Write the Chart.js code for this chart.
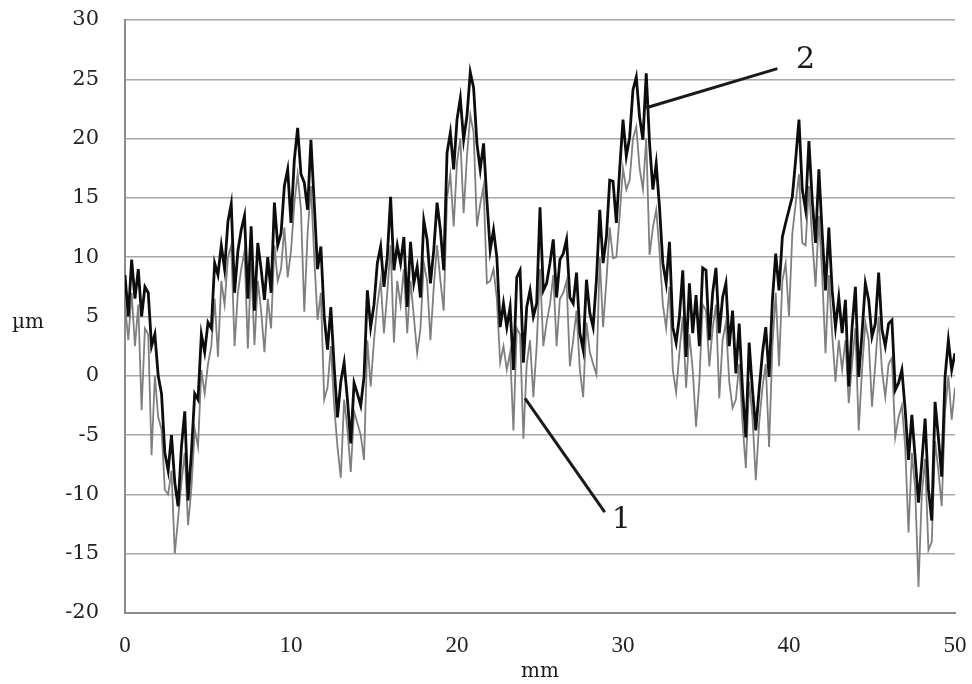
<!DOCTYPE html>
<html>
<head>
<meta charset="utf-8">
<script src="https://cdn.jsdelivr.net/npm/chart.js@4/dist/chart.umd.min.js"></script>
<style>
  html, body { margin: 0; padding: 0; background: #fff; }
  #wrap { width: 972px; height: 684px; }
</style>
</head>
<body>
<div id="wrap"><canvas id="profileChart" width="972" height="684"></canvas></div>
<script>
// sampling step along the profile, mm
const STEP = 0.2

// profile 2 (black), µm, one row per mm
const profile2 = [
  8.5, 5.0, 9.8, 6.5, 9.0,
  5.0, 7.5, 7.0, 2.5, 3.5,
  0.0, -1.5, -6.5, -8.0, -5.0,
  -9.0, -11.0, -6.0, -3.0, -10.5,
  -6.5, -1.5, -2.0, 3.5, 2.0,
  4.5, 4.0, 9.5, 8.5, 11.0,
  9.0, 13.0, 14.5, 7.0, 10.5,
  12.3, 13.5, 6.5, 12.6, 5.5,
  11.2, 9.0, 6.4, 10.0, 7.0,
  14.6, 11.0, 12.0, 16.0, 17.4,
  12.9, 18.2, 20.9, 17.0, 16.3,
  14.0, 19.9, 14.5, 9.0, 10.9,
  5.0, 2.2, 5.8, 0.8, -3.5,
  -0.5, 1.1, -2.0, -5.7, -0.6,
  -1.5, -2.5, -0.1, 7.2, 4.1,
  6.0, 9.5, 10.9, 7.5, 10.0,
  15.1, 8.9, 11.0, 9.5, 11.7,
  5.8, 11.3, 7.8, 9.2, 6.6,
  13.1, 11.5, 7.8, 10.6, 14.6,
  12.3, 8.9, 18.8, 20.5, 17.4,
  21.6, 23.4, 19.9, 21.9, 25.6,
  24.3, 19.6, 17.4, 19.6, 14.8,
  10.6, 12.3, 10.0, 4.1, 6.1,
  4.1, 5.8, 0.5, 8.3, 8.9,
  1.1, 5.8, 7.2, 5.0, 6.1,
  14.2, 7.2, 7.8, 9.5, 11.5,
  6.6, 9.8, 10.3, 11.5, 6.6,
  6.1, 8.7, 3.6, 2.2, 8.1,
  5.3, 4.1, 8.1, 14.0, 9.5,
  11.7, 16.5, 16.4, 12.9, 17.4,
  21.6, 18.5, 20.1, 24.1, 25.2,
  21.8, 19.9, 25.5, 19.6, 15.7,
  17.9, 14.2, 9.5, 7.8, 11.3,
  4.1, 2.8, 5.0, 8.9, 1.6,
  7.8, 3.6, 6.8, 2.5, 9.1,
  8.9, 3.0, 7.0, 9.1, 3.6,
  6.6, 7.8, 2.5, 5.5, 0.2,
  4.4, -1.2, -5.2, 2.8, -1.2,
  -4.6, -1.2, 1.9, 4.1, -0.1,
  6.4, 10.3, 7.2, 11.7, 12.9,
  14.0, 15.1, 18.2, 21.6, 15.7,
  14.0, 19.8, 14.8, 11.2, 17.4,
  12.0, 7.2, 12.5, 7.2, 4.1,
  6.6, 3.6, 6.4, -0.9, 4.1,
  7.5, -0.1, 3.6, 7.8, 6.4,
  3.3, 4.4, 8.7, 3.9, 2.5,
  4.4, 4.7, -1.2, -0.6, 0.5,
  -2.9, -7.1, -3.3, -6.9, -10.7,
  -7.3, -3.6, -9.6, -12.2, -2.2,
  -5.2, -8.5, -0.1, 3.0, 0.5,
  1.9
]

// profile 1 (grey), µm
const profile1 = [
  6.0, 3.0, 7.0, 2.5, 6.0,
  -2.9, 4.0, 3.5, -6.7, 0.0,
  -3.5, -4.5, -9.6, -10.0, -8.0,
  -15.0, -12.0, -9.0, -6.5, -12.6,
  -9.5, -4.5, -6.0, 0.5, -1.5,
  1.0, 2.5, 6.5, 1.6, 8.0,
  6.0, 10.0, 11.0, 2.5, 7.0,
  9.0, 10.5, 2.3, 9.5, 2.6,
  8.0, 5.5, 2.0, 6.5, 4.0,
  11.0, 8.0, 9.0, 12.5, 8.3,
  10.5, 14.5, 17.0, 14.0, 5.4,
  12.0, 16.0, 10.0, 4.7, 7.0,
  -2.0, -1.0, 2.5, -2.5, -6.0,
  -8.6, -2.0, -4.5, -8.1, -3.0,
  -4.0, -5.0, -7.1, 3.0, -0.9,
  3.0, 6.0, 8.0, 3.6, 7.0,
  11.0, 2.8, 8.0, 6.0, 9.0,
  3.6, 8.0, 5.0, 1.9, 4.0,
  9.5, 8.0, 3.0, 7.5, 11.0,
  8.0, 5.5, 15.0, 17.0, 12.6,
  18.0, 20.0, 13.7, 18.5, 22.0,
  20.5, 12.6, 14.5, 16.0, 7.8,
  8.0, 9.0, 6.5, 1.1, 2.5,
  0.5, 2.0, -4.6, 4.0, 3.5,
  -5.3, 1.0, 3.0, -1.8, 2.5,
  9.0, 2.5, 4.5, 6.0, 8.5,
  2.5, 6.5, 7.0, 8.0, 0.8,
  3.0, 5.5, 0.5, -1.8, 4.5,
  2.0, 1.0, 0.1, 10.0, 4.1,
  8.0, 12.5, 9.9, 10.0, 13.5,
  17.5, 15.7, 16.5, 20.0, 21.0,
  17.5, 15.7, 20.0, 10.2, 12.5,
  14.0, 10.5, 6.0, 4.0, 7.5,
  0.5, -1.4, 2.0, 5.0, -1.0,
  3.5, 0.5, -4.3, -0.5, 6.0,
  5.5, 0.8, 4.0, 6.0, -1.9,
  3.0, 4.5, -0.5, -2.7, -2.0,
  1.0, -4.0, -7.8, -0.5, -3.5,
  -8.8, -4.0, -1.0, 1.0, -6.0,
  2.5, 7.0, 0.8, 8.0, 9.5,
  5.0, 12.0, 14.5, 17.0, 11.2,
  11.0, 16.0, 11.5, 7.5, 13.5,
  8.5, 1.9, 8.5, 3.5, -0.5,
  3.0, 0.5, 3.0, -2.3, 1.0,
  4.0, -4.6, 0.5, 4.5, 3.0,
  -2.6, 1.0, 5.0, 0.5, -1.8,
  1.0, 1.5, -5.2, -3.5, -2.5,
  -6.0, -13.2, -6.5, -9.5, -17.8,
  -10.0, -7.0, -14.7, -14.0, -5.5,
  -8.0, -11.0, -3.0, 0.0, -3.7,
  -1.0
]

const xMin = 0, xMax = 50, xStep = 10
const yMin = -20, yMax = 30, yStep = 5

// leader lines for the curve numbers, in data units (mm, µm)
const callouts = [
  { text: "1", from: [24.1, -1.9], to: [28.9, -11.5], at: [29.9, -12.2] },
  { text: "2", from: [31.4, 22.6], to: [39.3, 25.9], at: [41.0, 26.6] }
]

const toPoints = arr => arr.map((v, i) => ({ x: +(i * STEP).toFixed(2), y: v }))

const serif = "'DejaVu Serif', 'Liberation Serif', serif"

// axis titles + numbered leader lines
const extrasPlugin = {
  id: "extras",
  afterDatasetsDraw(chart) {
    const ctx = chart.ctx
    const xs = chart.scales.x, ys = chart.scales.y
    ctx.save()
    ctx.strokeStyle = "#1a1a1a"
    ctx.lineWidth = 3
    ctx.fillStyle = "#1a1a1a"
    ctx.font = "30px " + serif
    ctx.textAlign = "center"
    ctx.textBaseline = "middle"
    callouts.forEach(c => {
      ctx.beginPath()
      ctx.moveTo(xs.getPixelForValue(c.from[0]), ys.getPixelForValue(c.from[1]))
      ctx.lineTo(xs.getPixelForValue(c.to[0]), ys.getPixelForValue(c.to[1]))
      ctx.stroke()
      ctx.fillText(c.text, xs.getPixelForValue(c.at[0]), ys.getPixelForValue(c.at[1]))
    })
    ctx.font = "20px " + serif
    ctx.fillText("µm", 28, ys.getPixelForValue(4.5))
    ctx.fillText("mm", (chart.chartArea.left + chart.chartArea.right) / 2, 672)
    ctx.restore()
  }
}

const ctx = document.getElementById("profileChart").getContext("2d")
new Chart(ctx, {
  type: "line",
  data: {
    datasets: [
      {
        label: "2",
        data: toPoints(profile2),
        borderColor: "#0d0d0d",
        borderWidth: 2.8,
        pointRadius: 0,
        tension: 0,
        order: 0
      },
      {
        label: "1",
        data: toPoints(profile1),
        borderColor: "#7f7f7f",
        borderWidth: 1.8,
        pointRadius: 0,
        tension: 0,
        order: 1
      }
    ]
  },
  options: {
    responsive: false,
    animation: false,
    layout: { padding: { top: 20, right: 17, left: 0, bottom: 0 } },
    plugins: { legend: { display: false }, tooltip: { enabled: false } },
    scales: {
      x: {
        type: "linear",
        min: xMin, max: xMax,
        ticks: { stepSize: xStep, color: "#222", padding: 19, maxRotation: 0,
                 font: { family: "'Liberation Serif', serif", size: 23 } },
        grid: { display: false, drawTicks: false },
        border: { color: "#8c8c8c", width: 2 },
        afterFit: s => { s.height = 71; s.paddingLeft = 0; s.paddingRight = 0 }
      },
      y: {
        min: yMin, max: yMax,
        ticks: { stepSize: yStep, color: "#222", padding: 26,
                 font: { family: serif, size: 21 } },
        grid: { color: "#a8a8a8", lineWidth: 1.5, drawTicks: false },
        border: { color: "#8c8c8c", width: 2 },
        afterFit: s => { s.width = 125; s.paddingTop = 0; s.paddingBottom = 0 }
      }
    }
  },
  plugins: [extrasPlugin]
})
</script>
</body>
</html>
